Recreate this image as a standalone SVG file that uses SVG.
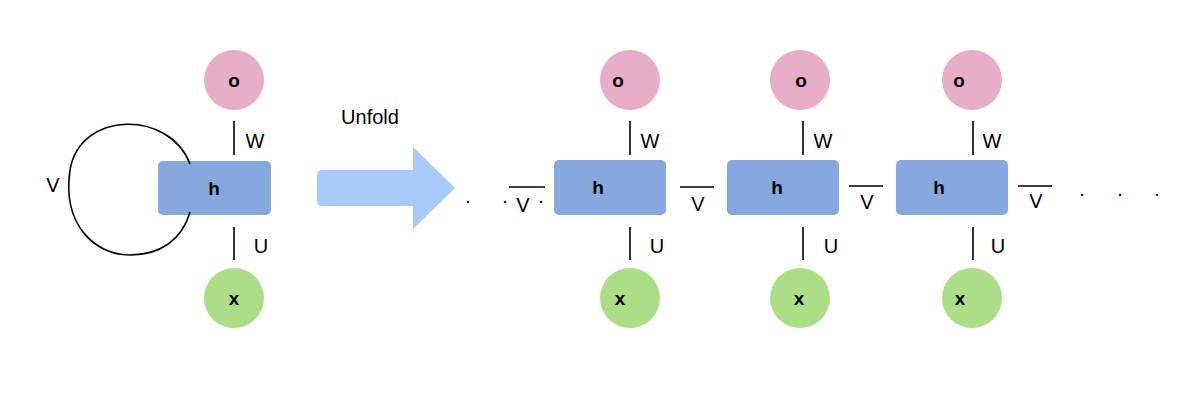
<svg xmlns="http://www.w3.org/2000/svg" width="1200" height="400" viewBox="0 0 1200 400">
<style>
text{font-family:"Liberation Sans",Arial,sans-serif;fill:#000}
.o{fill:#e8aec8}.x{fill:#acde88}.h{fill:#86a8de}
.lbl{font-size:20px;text-anchor:middle}
.n{font-size:19px;font-weight:bold;text-anchor:middle}
.c line,.c path{stroke:#000;stroke-width:1.6;fill:none}
</style>
<g id="o0"><circle class="o" cx="234" cy="80" r="30"/><text class="n" x="234" y="87">o</text></g>
<g id="h0"><rect class="h" x="158" y="161" width="113" height="54" rx="5"/><text class="n" x="214" y="195">h</text></g>
<g id="x0"><circle class="x" cx="234" cy="298" r="30"/><text class="n" x="234" y="305">x</text></g>
<g id="o1"><circle class="o" cx="630" cy="80" r="30"/><text class="n" x="618" y="87">o</text></g>
<g id="h1"><rect class="h" x="554" y="160" width="112" height="55" rx="5"/><text class="n" x="598" y="194">h</text></g>
<g id="x1"><circle class="x" cx="630" cy="298" r="30"/><text class="n" x="620" y="305">x</text></g>
<g id="o2"><circle class="o" cx="800" cy="80" r="30"/><text class="n" x="801" y="87">o</text></g>
<g id="h2"><rect class="h" x="727" y="160" width="112" height="55" rx="5"/><text class="n" x="777" y="194">h</text></g>
<g id="x2"><circle class="x" cx="800" cy="298" r="30"/><text class="n" x="799" y="305">x</text></g>
<g id="o3"><circle class="o" cx="972" cy="80" r="30"/><text class="n" x="959" y="87">o</text></g>
<g id="h3"><rect class="h" x="896" y="160" width="112" height="55" rx="5"/><text class="n" x="939" y="194">h</text></g>
<g id="x3"><circle class="x" cx="972" cy="298" r="30"/><text class="n" x="960" y="305">x</text></g>
<g id="arrow"><path d="M322 170H413V147L455 188L413 229V206H322Q317 206 317 201V175Q317 170 322 170Z" fill="#a8cbfb"/></g>
<text x="370" y="124" class="lbl" font-size="20">Unfold</text>
<g class="c" id="connectors">
<line x1="234" y1="121" x2="234" y2="155"/><line x1="234" y1="227" x2="234" y2="260"/>
<path d="M190 164C170 110 80 110 70 170C62 225 95 255 130 255C160 255 182 240 190 212"/>
<line x1="630" y1="121" x2="630" y2="155"/><line x1="630" y1="227" x2="630" y2="260"/>
<line x1="803" y1="121" x2="803" y2="155"/><line x1="803" y1="227" x2="803" y2="260"/>
<line x1="973" y1="121" x2="973" y2="155"/><line x1="973" y1="227" x2="973" y2="260"/>
<line x1="509" y1="187" x2="545" y2="187"/><line x1="680" y1="187" x2="714" y2="187"/>
<line x1="849" y1="186" x2="883" y2="186"/><line x1="1018" y1="186" x2="1052" y2="186"/>
</g>
<g class="lbl">
<text x="53" y="192">V</text>
<text x="255" y="148">W</text><text x="261" y="253">U</text>
<text x="650" y="148">W</text><text x="657" y="253">U</text>
<text x="823" y="148">W</text><text x="831" y="253">U</text>
<text x="992" y="148">W</text><text x="998" y="253">U</text>
<text x="523" y="212">V</text><text x="698" y="211">V</text><text x="867" y="209">V</text><text x="1036" y="208">V</text>
<text x="468" y="203">.</text><text x="505" y="203">.</text><text x="541" y="203">.</text>
<text x="1082" y="196">.</text><text x="1120" y="196">.</text><text x="1157" y="196">.</text>
</g>
</svg>
